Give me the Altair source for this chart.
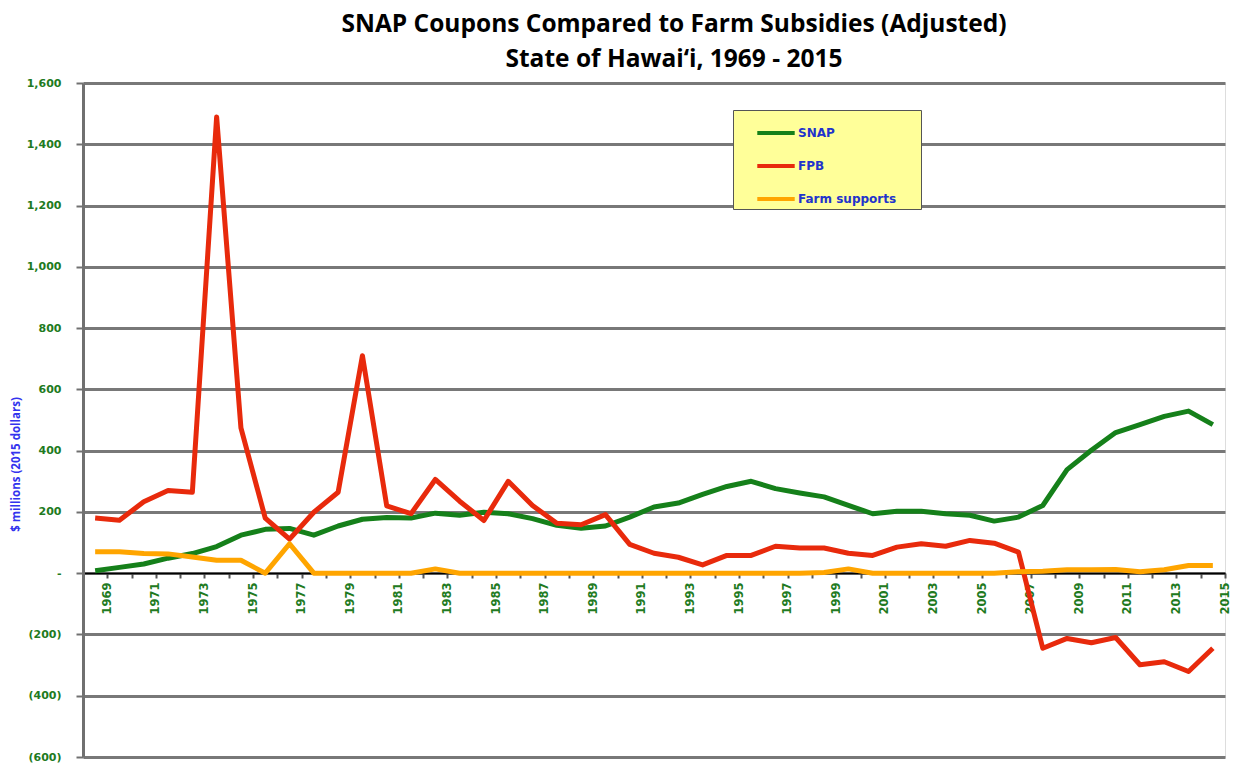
import altair as alt
import pandas as pd

years = list(range(1969, 2016))

snap = [8, 19, 30, 49, 64, 87, 124, 143, 146, 124, 154, 176,
        182, 180, 196, 189, 199, 194, 178, 156, 147, 154,
        183, 216, 229, 257, 283, 300, 276, 262, 249, 221,
        194, 202, 202, 194, 189, 170, 183, 221, 338, 401,
        459, 485, 512, 529, 485]

fpb = [180, 173, 233, 270, 264, 1489, 474, 180, 111, 199, 264, 710,
       220, 194, 306, 235, 172, 300, 221, 163, 158, 191,
       94, 65, 52, 27, 58, 58, 88, 82, 82, 65,
       58, 85, 96, 88, 107, 98, 69, -245, -213, -227,
       -210, -299, -289, -321, -245]

farm = [70, 70, 64, 63, 53, 42, 42, 0, 96, 0, 0, 0,
        0, 0, 14, 0, 0, 0, 0, 0, 0, 0,
        0, 0, 0, 0, 0, 0, 0, 0, 2, 14,
        0, 0, 0, 0, 0, 0, 5, 6, 11, 11,
        12, 5, 11, 25, 25]

series_names = ["SNAP", "FPB", "Farm supports"]
series_colors = ["#15801a", "#e82a0c", "#ffa500"]
y_ticks = list(range(-600, 1601, 200))

rows = []
for name, vals in zip(series_names, [snap, fpb, farm]):
    for y, v in zip(years, vals):
        rows.append({"year": y, "value": v, "series": name})
df = pd.DataFrame(rows)

LEFT = 75
TOP = 75
W = 1142
H = 674
step = W / len(years)
zero_offset = -round(600 / 2200 * H)

label_green = "#217a21"

chart = alt.Chart(df).mark_line(strokeWidth=5, strokeJoin="round").encode(
    x=alt.X("year:O",
            scale=alt.Scale(type="point", padding=0.5),
            axis=alt.Axis(
                orient="bottom", offset=zero_offset, title=None,
                labelAngle=270, labelExpr="datum.value % 2 == 1 ? datum.label : ''",
                labelFont="DejaVu Sans", labelFontSize=11.5, labelFontWeight="bold",
                labelColor=label_green, labelPadding=4,
                tickColor="#555555", tickSize=5, tickWidth=2, tickOffset=step / 2,
                domainColor="black", domainWidth=1.5, grid=False)),
    y=alt.Y("value:Q",
            scale=alt.Scale(domain=[-600, 1600], nice=False, zero=False),
            axis=alt.Axis(
                values=y_ticks, grid=True, gridColor="#787878", gridWidth=3,
                domainColor="#707070", domainWidth=3,
                tickColor="#707070", tickSize=7, tickWidth=2,
                labelFont="DejaVu Sans", labelFontSize=11, labelFontWeight="bold",
                labelColor=label_green, labelPadding=15,
                labelExpr="datum.value == 0 ? '-' : (datum.value < 0 ? '(' + format(-datum.value, ',') + ')' : format(datum.value, ','))",
                title="$ millions (2015 dollars)", titleColor="#3333ee",
                titleFont="Open Sans", titleFontSize=11.5, titleFontWeight="bold",
                titleX=16 - (LEFT + 8), titleY=464 - (TOP + 8), titleAngle=270,
                titleAlign="center", titleBaseline="middle")),
    color=alt.Color("series:N",
                    scale=alt.Scale(domain=series_names, range=series_colors),
                    legend=alt.Legend(
                        orient="none", legendX=733 - (LEFT + 8), legendY=110 - (TOP + 8),
                        title="\u00a0", titleOrient="right", titlePadding=23,
                        titleFontSize=6,
                        fillColor="#ffff99", strokeColor="#555555",
                        padding=2, symbolOffset=20,
                        symbolType="stroke", symbolStrokeWidth=4, symbolSize=1400,
                        labelFont="DejaVu Sans", labelFontSize=12, labelFontWeight="bold",
                        labelColor="#2233cc", labelOffset=1, rowPadding=4)),
    order=alt.Order("year:O"),
).properties(
    width=W, height=H,
    title=alt.TitleParams(
        text=["SNAP Coupons Compared to Farm Subsidies (Adjusted)",
              "State of Hawai\u2018i,  1969 - 2015"],
        font="Open Sans", fontSize=24.5, fontWeight="bold", color="black",
        anchor="middle", offset=5, lineHeight=35, dx=20),
    autosize=alt.AutoSizeParams(type="none"),
    padding={"left": LEFT, "top": TOP, "right": 6, "bottom": 8},
).configure_view(
    fill="#cbcbcb", stroke=None
).configure(background="white")

chart.save("out.html", embed_options={"renderer": "svg", "actions": False})
